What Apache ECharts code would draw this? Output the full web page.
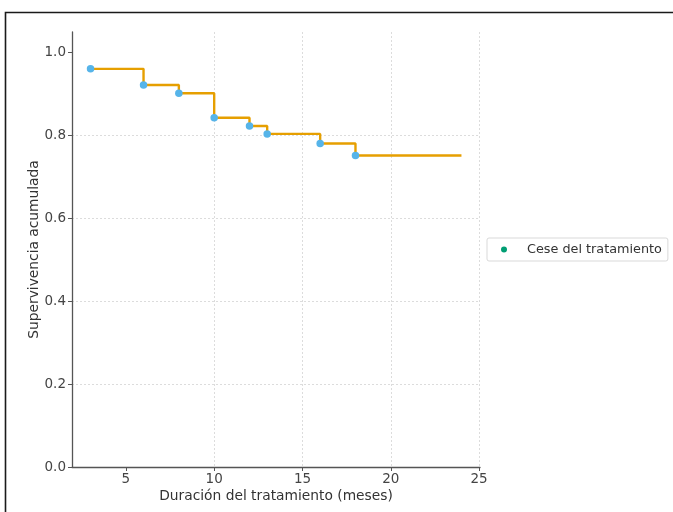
<!DOCTYPE html>
<html>
<head>
<meta charset="utf-8">
<script src="https://cdn.jsdelivr.net/npm/echarts@6/dist/echarts.min.js"></script>
<style>
html,body{margin:0;padding:0;background:#fff;}
#chart{width:673px;height:512px;}
</style>
</head>
<body>
<div id="chart"></div>
<script>
// Data
const eventTimes = [3, 6, 8, 10, 12, 13, 16, 18];
const survival = [0.961, 0.922, 0.902, 0.843, 0.823, 0.804, 0.781, 0.752];
const lastTime = 24;
const xTickLabels = [5, 10, 15, 20, 25];
const yTickLabels = [0, 0.2, 0.4, 0.6, 0.8, 1.0];
const legendName = 'Cese del tratamiento';
const xTitle = 'Duración del tratamiento (meses)';
const yTitle = 'Supervivencia acumulada';

const pointData = eventTimes.map((t, i) => [t, survival[i]]);
const stepData = pointData.concat([[lastTime, survival[survival.length - 1]]]);

const font = 'DejaVu Sans';
const chart = echarts.init(document.getElementById('chart'), null, {renderer: 'canvas'});
chart.setOption({
  animation: false,
  backgroundColor: '#fff',
  graphic: [{
    type: 'rect',
    shape: {x: 5.5, y: 12.5, width: 800, height: 700},
    style: {fill: 'none', stroke: '#1a1a1a', lineWidth: 1.6},
    silent: true
  }],
  grid: {left: 72, right: 193, top: 32, bottom: 45, containLabel: false},
  xAxis: {
    type: 'value',
    min: 1.95,
    max: 25.05,
    name: xTitle,
    nameLocation: 'middle',
    nameGap: 22,
    nameMoveOverlap: false,
    nameTextStyle: {fontFamily: font, fontSize: 13.8, color: '#333'},
    axisLine: {show: true, onZero: false, lineStyle: {color: '#555', width: 1.3}},
    axisTick: {show: true, length: 4, lineStyle: {color: '#555'}, customValues: xTickLabels},
    axisLabel: {fontFamily: font, fontSize: 13.5, color: '#444', margin: 5, customValues: xTickLabels},
    splitLine: {show: true, showMinLine: false, showMaxLine: true, lineStyle: {color: '#d4d4d4', type: [2, 2], width: 0.8}}
  },
  yAxis: {
    type: 'value',
    min: 0,
    max: 1.05,
    name: yTitle,
    nameLocation: 'middle',
    nameGap: 31,
    nameMoveOverlap: false,
    nameTextStyle: {fontFamily: font, fontSize: 13.8, color: '#333'},
    axisLine: {show: true, onZero: false, lineStyle: {color: '#555', width: 1.3}},
    axisTick: {show: true, length: 4, lineStyle: {color: '#555'}, customValues: yTickLabels},
    axisLabel: {fontFamily: font, fontSize: 13.5, color: '#444', margin: 6, customValues: yTickLabels,
      formatter: v => v.toFixed(1)},
    splitLine: {show: true, showMinLine: false, showMaxLine: false, lineStyle: {color: '#d4d4d4', type: [2, 2], width: 0.8}}
  },
  legend: {
    show: true,
    left: 487,
    top: 238,
    orient: 'vertical',
    data: [{name: legendName, icon: 'circle', itemStyle: {color: '#009E73'}}],
    itemWidth: 20,
    itemHeight: 6,
    padding: [5, 6, 5, 14],
    borderColor: '#d9d9d9',
    borderWidth: 1,
    borderRadius: 2,
    textStyle: {fontFamily: font, fontSize: 12.8, color: '#333', padding: [0, 0, 0, 8]}
  },
  series: [
    {
      name: 'step',
      type: 'line',
      step: 'end',
      data: stepData,
      showSymbol: false,
      symbol: 'none',
      lineStyle: {color: '#E69F00', width: 2.4},
      itemStyle: {color: '#E69F00'},
      z: 2
    },
    {
      name: legendName,
      type: 'scatter',
      data: pointData,
      symbol: 'circle',
      symbolSize: 7.5,
      itemStyle: {color: '#56B4E9', opacity: 1},
      z: 3
    }
  ]
});
</script>
</body>
</html>
